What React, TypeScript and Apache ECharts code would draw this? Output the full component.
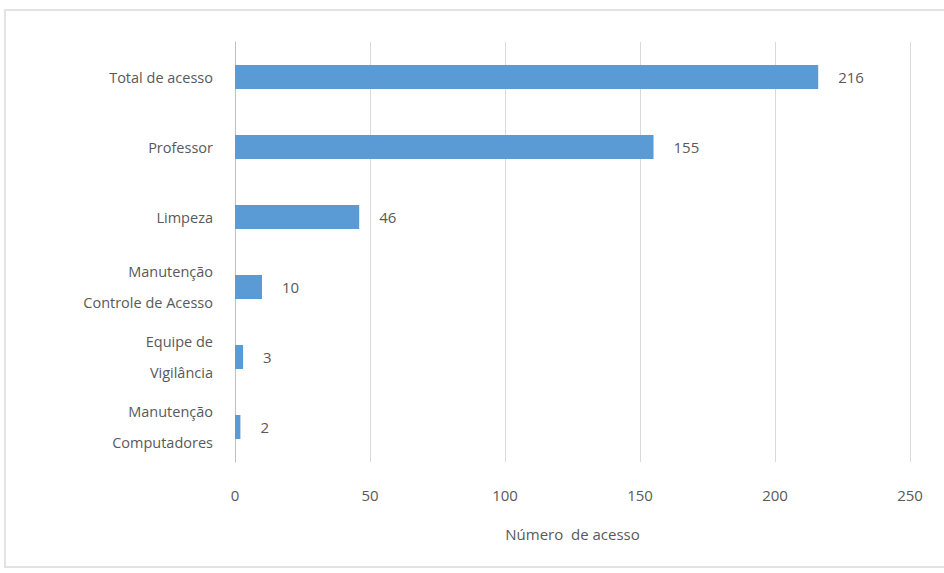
import React, { useEffect, useRef } from "react";
import * as echarts from "echarts";

const categories = [
  "Total de acesso",
  "Professor",
  "Limpeza",
  "Manutenção\nControle de Acesso",
  "Equipe de\nVigilância",
  "Manutenção\nComputadores",
];
const values = [216, 155, 46, 10, 3, 2];
const axisTitle = "Número  de acesso";

export default function App() {
  const ref = useRef<HTMLDivElement>(null);
  useEffect(() => {
    if (!ref.current) return;
    const chart = echarts.init(ref.current, null, { renderer: "svg" });
    const font = "'Open Sans', 'Liberation Sans', sans-serif";
    chart.setOption({
      animation: false,
      backgroundColor: "#ffffff",
      textStyle: { fontFamily: font },
      graphic: [
        {
          type: "rect",
          shape: { x: 5, y: 10, width: 940, height: 557 },
          style: { fill: "none", stroke: "#e3e3e3", lineWidth: 2 },
          silent: true,
        },
      ],
      grid: { left: 235, right: 34, top: 42, bottom: 111, containLabel: false },
      xAxis: {
        type: "value",
        min: 0,
        max: 250,
        interval: 50,
        name: axisTitle,
        nameLocation: "middle",
        nameGap: 64,
        nameTextStyle: { color: "#595959", fontSize: 15, fontFamily: font },
        axisLine: { show: false },
        axisTick: { show: false },
        axisLabel: { color: "#595959", fontSize: 15, margin: 25, fontFamily: font },
        splitLine: { show: true, lineStyle: { color: "#d9d9d9", width: 1 } },
      },
      yAxis: {
        type: "category",
        data: categories,
        inverse: true,
        axisLine: { show: true, lineStyle: { color: "#bfbfbf", width: 1 } },
        axisTick: { show: false },
        axisLabel: {
          color: "#595959",
          fontSize: 14.5,
          margin: 22,
          lineHeight: 31,
          align: "right",
          fontFamily: font,
        },
      },
      series: [
        {
          type: "bar",
          data: values,
          barWidth: 24,
          itemStyle: { color: "#5b9bd5" },
          label: {
            show: true,
            position: "right",
            distance: 20,
            color: "#595959",
            fontSize: 15,
            fontFamily: font,
          },
        },
      ],
    });
    return () => chart.dispose();
  }, []);
  return (
    <div
      ref={ref}
      style={{ position: "fixed", left: 0, top: 0, width: 944, height: 573 }}
    />
  );
}
